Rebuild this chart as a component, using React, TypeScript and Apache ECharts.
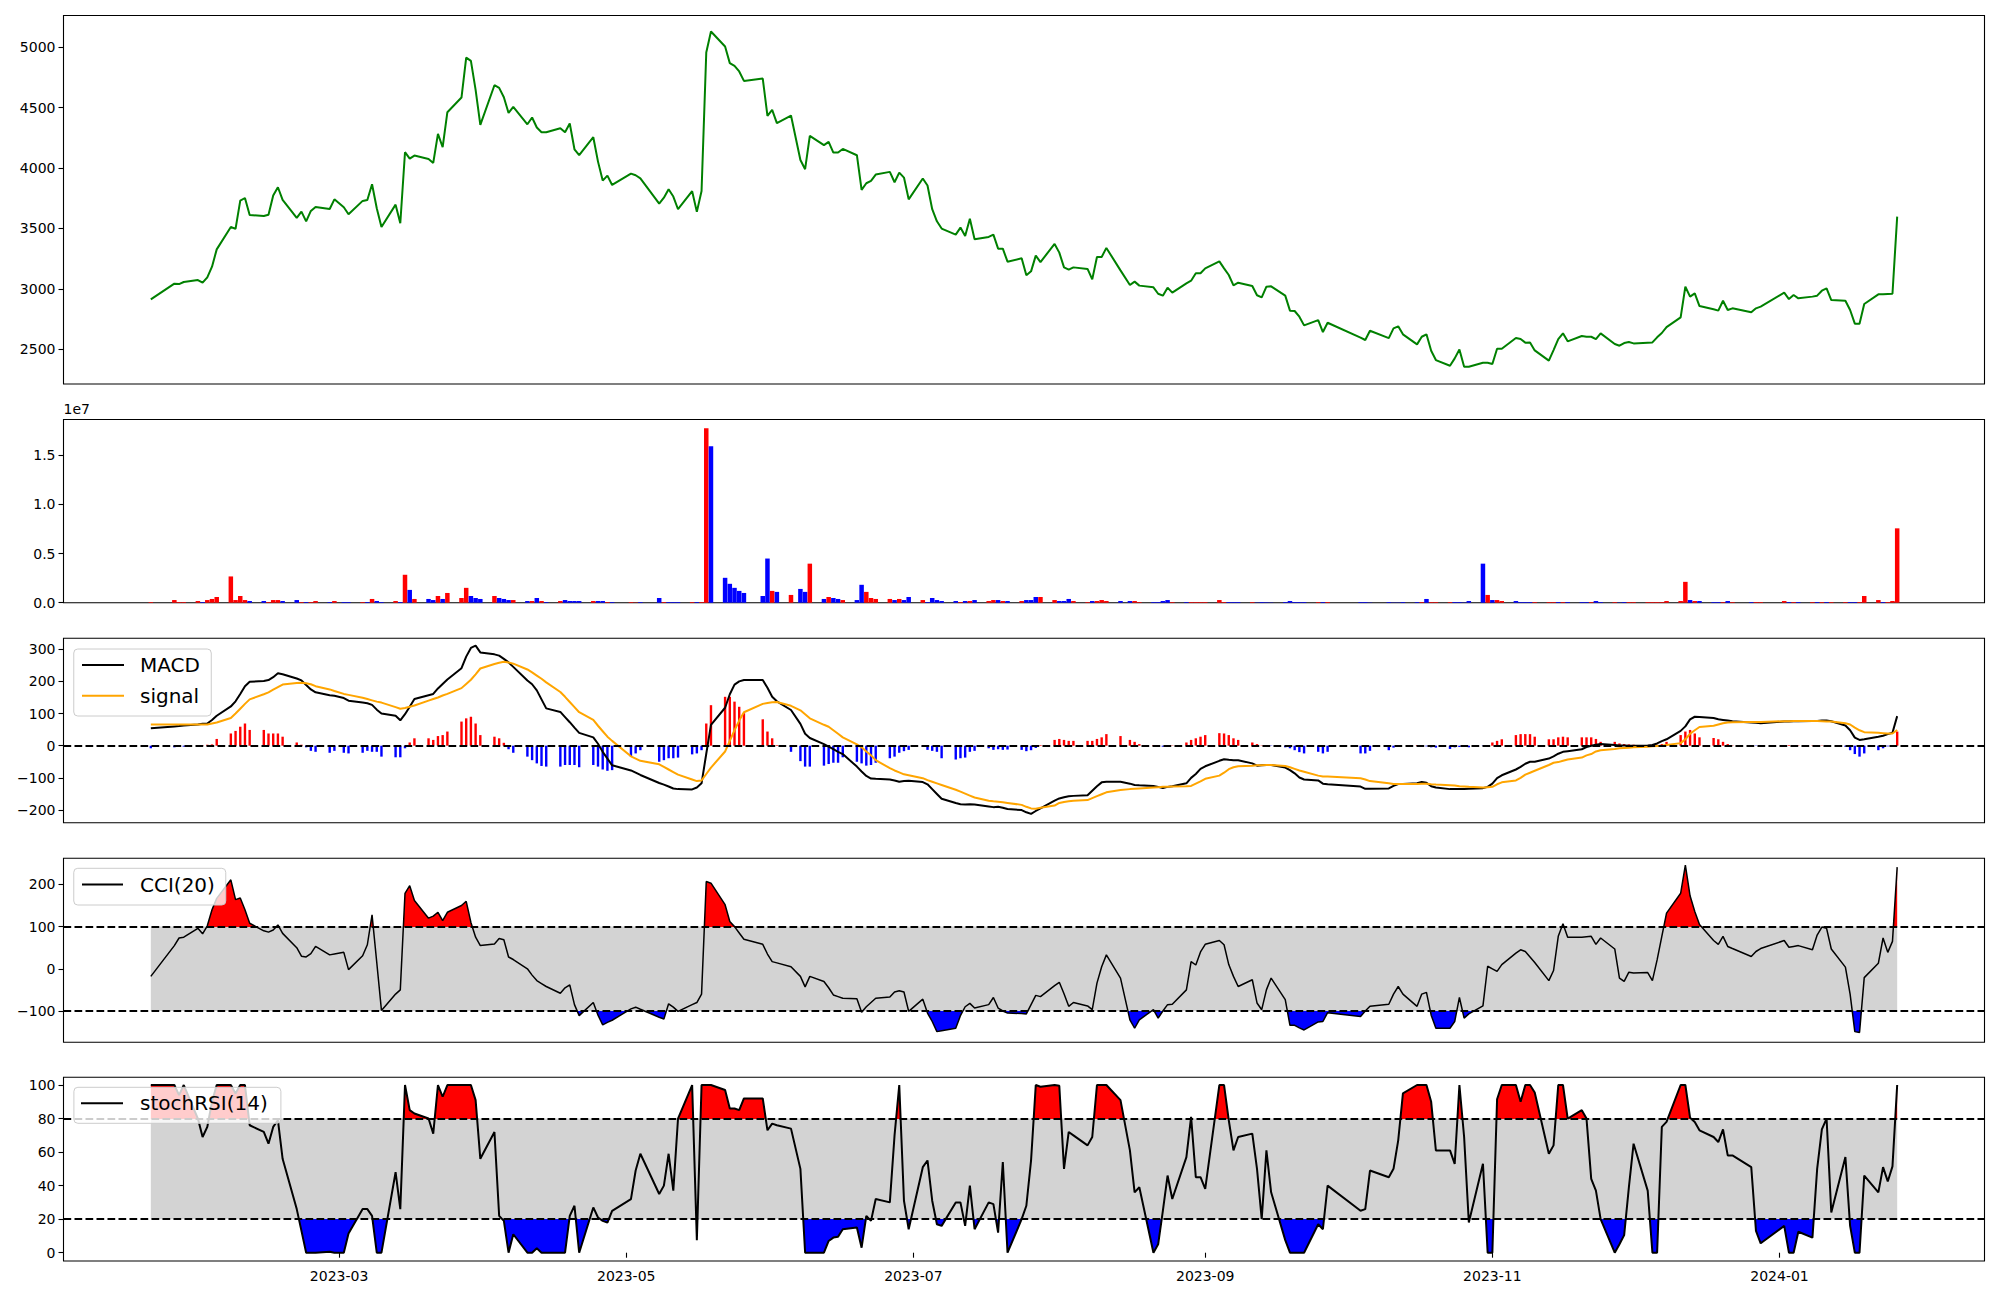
import React, { useEffect, useRef } from "react";
import * as echarts from "echarts";

// ---------- calendar ----------
const FIRST_DAY = "2023-01-20";
const LAST_DAY = "2024-01-26";
const HOLIDAYS = [
  "2023-01-23", "2023-01-24", "2023-03-01", "2023-05-01", "2023-05-05", "2023-05-29",
  "2023-06-06", "2023-08-15", "2023-09-28", "2023-09-29", "2023-10-02", "2023-10-03",
  "2023-10-09", "2023-12-25", "2023-12-29", "2024-01-01",
];

// ---------- series values (one per trading day) ----------
const closePrice = [
  2913, 3043, 3040, 3057, 3073, 3051, 3096, 3184, 3327, 3512,
  3496, 3730, 3752, 3612, 3603, 3614, 3772, 3841, 3736, 3587,
  3639, 3559, 3645, 3678, 3661, 3741, 3675, 3617, 3728, 3736,
  3866, 3667, 3512, 3697, 3543, 4131, 4078, 4103, 4075, 4042,
  4282, 4172, 4462, 4583, 4914, 4887, 4647, 4357, 4685, 4663,
  4586, 4456, 4506, 4362, 4418, 4335, 4296, 4296, 4329, 4296,
  4368, 4155, 4106, 4255, 4053, 3896, 3937, 3860, 3954, 3940,
  3915, 3706, 3755, 3824, 3764, 3659, 3808, 3637, 3810, 4956,
  5130, 5006, 4868, 4845, 4799, 4721, 4740, 4431, 4481, 4371,
  4434, 4067, 3990, 4266, 4189, 4216, 4128, 4128, 4158, 4106,
  3819, 3874, 3893, 3946, 3968, 3882, 3962, 3921, 3741, 3913,
  3855, 3659, 3559, 3499, 3449, 3507, 3438, 3581, 3410, 3430,
  3449, 3333, 3333, 3225, 3253, 3112, 3145, 3275, 3222, 3372,
  3300, 3178, 3159, 3178, 3165, 3079, 3264, 3264, 3339, 3153,
  3032, 3060, 3027, 3013, 2960, 2944, 3010, 2969, 3046, 3068,
  3129, 3129, 3170, 3228, 3170, 3115, 3029, 3051, 3024, 2947,
  2930, 3018, 3021, 2944, 2820, 2817, 2770, 2698, 2742, 2643,
  2720, 2597, 2577, 2654, 2593, 2673, 2690, 2624, 2541, 2604,
  2624, 2488, 2411, 2364, 2425, 2499, 2356, 2356, 2389, 2389,
  2378, 2505, 2505, 2593, 2585, 2555, 2557, 2491, 2406, 2494,
  2585, 2632, 2566, 2610, 2604, 2604, 2585, 2632, 2544, 2530,
  2552, 2560, 2549, 2555, 2557, 2599, 2635, 2684, 2764, 3018,
  2936, 2963, 2858, 2831, 2820, 2902, 2825, 2839, 2806, 2839,
  2853, 2969, 2916, 2949, 2922, 2936, 2944, 2985, 3004, 2908,
  2902, 2825, 2712, 2712, 2875, 2955, 2955, 2958, 2960, 3598,
];

const volume = [
  70000, 270000, 70000, 70000, 170000, 70000, 270000, 380000, 580000, 2670000,
  270000, 680000, 270000, 170000, 170000, 70000, 270000, 270000, 170000, 270000,
  70000, 70000, 70000, 170000, 70000, 170000, 70000, 70000, 70000, 70000,
  380000, 170000, 70000, 170000, 70000, 2840000, 1300000, 380000, 380000, 270000,
  680000, 380000, 990000, 480000, 1510000, 680000, 480000, 380000, 680000, 480000,
  380000, 270000, 270000, 170000, 170000, 480000, 170000, 70000, 170000, 270000,
  170000, 170000, 170000, 170000, 170000, 170000, 70000, 70000, 70000, 30000,
  70000, 480000, 70000, 70000, 70000, 70000, 70000, 70000, 70000, 17740000,
  15900000, 2530000, 1920000, 1510000, 1200000, 990000, 680000, 4490000, 1200000, 1100000,
  790000, 1400000, 1100000, 3970000, 380000, 580000, 480000, 380000, 270000, 270000,
  1820000, 1100000, 480000, 380000, 380000, 270000, 380000, 270000, 580000, 270000,
  70000, 480000, 270000, 170000, 170000, 70000, 170000, 170000, 270000, 170000,
  270000, 270000, 170000, 170000, 170000, 270000, 270000, 580000, 580000, 270000,
  170000, 170000, 380000, 170000, 70000, 170000, 170000, 270000, 170000, 170000,
  170000, 170000, 70000, 70000, 70000, 170000, 270000, 70000, 70000, 70000,
  70000, 70000, 70000, 270000, 70000, 70000, 70000, 70000, 70000, 30000,
  70000, 50000, 30000, 70000, 170000, 70000, 70000, 70000, 70000, 70000,
  70000, 70000, 70000, 30000, 70000, 30000, 30000, 70000, 70000, 70000,
  380000, 70000, 70000, 70000, 70000, 70000, 30000, 170000, 3970000, 790000,
  270000, 270000, 170000, 170000, 70000, 70000, 70000, 70000, 70000, 70000,
  70000, 70000, 70000, 70000, 70000, 70000, 170000, 70000, 70000, 30000,
  70000, 70000, 70000, 70000, 70000, 70000, 70000, 170000, 170000, 2120000,
  270000, 170000, 170000, 70000, 70000, 70000, 170000, 70000, 70000, 70000,
  70000, 170000, 70000, 70000, 70000, 70000, 70000, 70000, 70000, 70000,
  70000, 70000, 70000, 70000, 680000, 270000, 70000, 70000, 170000, 7560000,
];

// 1 = up day (red bar), 0 = down day (blue bar)
const volumeUp = [
  1, 1, 1, 1, 1, 0, 1, 1, 1, 1,
  1, 1, 1, 0, 0, 1, 1, 1, 0, 0,
  1, 0, 1, 1, 0, 1, 0, 0, 1, 0,
  1, 0, 0, 1, 0, 1, 0, 1, 0, 0,
  1, 0, 1, 1, 1, 0, 0, 0, 1, 0,
  0, 0, 1, 0, 1, 0, 1, 0, 1, 0,
  0, 0, 0, 1, 0, 0, 1, 0, 1, 1,
  0, 0, 1, 0, 0, 0, 1, 0, 1, 1,
  0, 0, 0, 0, 0, 0, 0, 0, 1, 0,
  1, 0, 0, 1, 0, 1, 0, 0, 1, 0,
  0, 1, 1, 1, 1, 0, 1, 0, 0, 1,
  0, 0, 0, 0, 0, 1, 0, 1, 0, 1,
  1, 0, 1, 0, 1, 0, 0, 0, 1, 1,
  0, 0, 0, 1, 1, 0, 1, 1, 1, 0,
  0, 1, 1, 0, 0, 0, 0, 1, 0, 1,
  1, 1, 1, 1, 1, 0, 0, 0, 1, 0,
  0, 0, 0, 0, 0, 0, 0, 0, 1, 0,
  1, 0, 0, 0, 0, 0, 0, 0, 0, 1,
  0, 1, 1, 1, 0, 0, 0, 0, 0, 1,
  0, 1, 1, 0, 0, 0, 0, 1, 1, 1,
  0, 1, 0, 0, 0, 1, 0, 0, 1, 0,
  0, 1, 1, 1, 1, 1, 1, 1, 1, 1,
  0, 1, 0, 0, 0, 1, 0, 1, 0, 1,
  1, 1, 0, 1, 0, 1, 0, 1, 0, 1,
  1, 0, 0, 1, 1, 1, 0, 1, 1, 1,
];

const macdLine = [
  54, 60, 61, 63, 66, 68, 69, 80, 93, 122,
  138, 161, 185, 199, 201, 204, 213, 225, 222, 209,
  203, 189, 175, 166, 157, 155, 148, 140, 134, 132,
  127, 112, 100, 93, 79, 98, 121, 145, 157, 161,
  178, 192, 206, 241, 277, 304, 311, 290, 284, 280,
  270, 259, 245, 203, 191, 172, 144, 116, 105, 89,
  73, 56, 40, 26, 6, -19, -40, -61, -77, -84,
  -91, -116, -121, -127, -133, -135, -136, -130, -117, -25,
  65, 118, 160, 190, 200, 204, 204, 180, 152, 138,
  111, 68, 37, 24, 5, -3, -11, -19, -26, -65,
  -80, -94, -102, -103, -105, -108, -112, -110, -109, -113,
  -120, -135, -150, -165, -178, -182, -183, -182, -183, -189,
  -191, -190, -193, -197, -200, -207, -212, -203, -195, -171,
  -164, -160, -157, -156, -154, -140, -126, -114, -112, -112,
  -118, -122, -123, -125, -128, -132, -128, -126, -117, -100,
  -88, -72, -64, -47, -42, -44, -45, -45, -55, -62,
  -61, -60, -60, -68, -76, -86, -99, -105, -108, -118,
  -120, -127, -134, -134, -133, -125, -119, -119, -117, -113,
  -115, -126, -130, -135, -135, -135, -135, -134, -132, -128,
  -118, -101, -92, -74, -66, -56, -50, -50, -40, -33,
  -25, -19, -17, -11, -4, 0, 3, 5, 2, 1,
  1, 0, 0, 1, 2, 7, 14, 20, 46, 60,
  82, 90, 89, 86, 82, 80, 78, 76, 72, 71,
  70, 75, 75, 76, 76, 77, 77, 78, 78, 76,
  63, 48, 25, 18, 20, 28, 31, 36, 40, 92,
];

const signalLine = [
  66, 66, 66, 66, 66, 66, 66, 69, 72, 86,
  100, 115, 130, 144, 160, 166, 174, 182, 190, 195,
  196, 194, 191, 185, 175, 170, 161, 158, 149, 145,
  141, 137, 134, 120, 115, 117, 121, 125, 140, 145,
  150, 156, 161, 179, 192, 205, 222, 240, 254, 258,
  261, 259, 255, 237, 228, 218, 208, 197, 167, 152,
  136, 120, 104, 80, 62, 45, 28, 15, -33, -40,
  -47, -58, -66, -74, -82, -90, -105, -110, -108, -88,
  -68, -18, 15, 48, 78, 104, 130, 133, 135, 136,
  124, 110, 98, 85, 65, 59, 48, 37, 26, 4,
  -5, -18, -30, -45, -70, -77, -83, -89, -92, -101,
  -107, -112, -117, -122, -137, -143, -149, -155, -161, -171,
  -173, -174, -176, -178, -184, -190, -195, -196, -193, -186,
  -178, -175, -173, -171, -169, -163, -157, -151, -145, -138,
  -135, -134, -133, -130, -129, -128, -128, -127, -126, -125,
  -118, -111, -103, -93, -84, -73, -67, -64, -62, -61,
  -61, -60, -60, -63, -67, -72, -77, -81, -93, -96,
  -96, -101, -105, -110, -117, -119, -119, -119, -119, -118,
  -118, -120, -121, -123, -124, -126, -127, -128, -130, -129,
  -128, -120, -114, -108, -100, -90, -84, -78, -60, -53,
  -51, -47, -43, -37, -30, -26, -18, -14, -10, -8,
  -7, -6, -5, -3, -2, -1, 0, 2, 8, 20,
  37, 48, 58, 62, 66, 70, 72, 73, 74, 74,
  74, 76, 76, 77, 77, 77, 77, 76, 75, 75,
  70, 66, 56, 48, 42, 40, 39, 38, 38, 49,
];

const macdHist = [
  -8, -5, -4, -3, -1, 1, 3, 4, 21, 38,
  46, 59, 69, 49, 49, 38, 38, 38, 28, 10,
  3, -5, -16, -19, -22, -16, -22, -24, -22, -16,
  -19, -19, -34, -36, -36, -8, 10, 23, 23, 18,
  30, 33, 44, 75, 85, 90, 69, 33, 28, 23,
  9, -11, -22, -34, -45, -55, -63, -65, -65, -60,
  -60, -60, -67, -60, -65, -74, -78, -76, -34, -24,
  -14, -50, -45, -39, -39, -37, -27, -24, -14, 69,
  126, 152, 152, 137, 121, 101, 82, 44, 23, 2,
  -19, -48, -65, -65, -62, -57, -53, -53, -36, -50,
  -55, -62, -60, -53, -39, -34, -22, -17, -13, -3,
  -13, -16, -19, -39, -43, -39, -37, -19, -16, -8,
  -13, -11, -13, -12, -13, -17, -14, -7, 2, 18,
  21, 18, 15, 15, 15, 15, 21, 26, 36, 30,
  18, 12, 5, 2, 1, -3, -1, 1, 10, 18,
  23, 28, 33, 39, 38, 33, 23, 18, 10, 5,
  1, 0, -1, -5, -8, -14, -20, -24, -19, -24,
  -19, -24, -24, -16, -14, -6, -1, 0, 2, -3,
  -2, -5, -6, -10, -5, -4, -3, -5, -1, 2,
  10, 15, 20, 33, 36, 36, 36, 28, 20, 20,
  26, 28, 26, 26, 26, 26, 21, 12, 12, 7,
  5, 4, 3, 2, 2, 3, 5, 12, 33, 44,
  49, 38, 26, 24, 20, 12, 5, 1, -1, -1,
  -1, 2, 2, 2, 1, 1, 1, 1, 0, 0,
  -3, -14, -26, -34, -24, -14, -8, -2, 2, 44,
];

const cci20 = [
  -18, 55, 73, 75, 96, 83, 102, 140, 167, 211,
  164, 168, 140, 108, 90, 87, 92, 104, 84, 50,
  30, 28, 36, 53, 33, 35, 39, -2, 31, 57,
  128, 15, -99, -60, -50, 179, 197, 162, 120, 125,
  134, 114, 134, 150, 160, 110, 75, 55, 59, 72,
  69, 28, 22, 0, -15, -28, -35, -42, -58, -45,
  -38, -85, -111, -80, -110, -133, -127, -122, -95, -91,
  -96, -115, -119, -83, -91, -101, -85, -80, -60, 207,
  203, 152, 112, 100, 85, 70, 58, 35, 17, 14,
  5, -18, -43, -18, -30, -45, -62, -66, -70, -71,
  -103, -90, -80, -70, -67, -55, -52, -55, -101, -72,
  -105, -125, -149, -147, -141, -111, -90, -82, -93, -85,
  -68, -93, -100, -105, -106, -107, -85, -63, -66, -40,
  -32, -59, -89, -80, -88, -97, -34, 5, 33, -22,
  -121, -141, -121, -97, -117, -100, -85, -84, -50, 17,
  9, 40, 58, 67, 57, 10, -18, -42, -26, -81,
  -97, -50, -22, -73, -134, -134, -140, -145, -126, -125,
  -104, -113, -100, -89, -84, -60, -42, -60, -89, -60,
  -56, -110, -141, -141, -125, -68, -117, -107, -88, 6,
  0, -6, 10, 37, 45, 41, 28, 15, -28, -4,
  77, 107, 75, 75, 76, 77, 58, 73, 47, -22,
  -30, -8, -10, -9, -28, 21, 77, 132, 179, 246,
  173, 136, 105, 67, 58, 77, 53, 48, 29, 41,
  48, 67, 51, 53, 55, 45, 80, 99, 96, 47,
  4, -60, -149, -151, -21, 13, 73, 39, 65, 241,
];

const stochRsi14 = [
  100, 100, 94, 100, 80, 69, 75, 90, 100, 100,
  95, 100, 100, 76, 72, 65, 75, 79, 56, 26,
  13, 0, 0, 0, 0.6, 0, 0, 11.5, 26, 26,
  22, 0, 0, 48, 26, 100, 85, 83, 80, 71,
  100, 93, 100, 100, 100, 100, 91, 56, 72, 22,
  19, 0, 11, 0, 0, 2.6, 0, 0, 0, 0,
  22, 28, 0, 27, 21, 19, 18, 25, 32, 49,
  59, 35, 40, 59, 37, 80, 100, 7.5, 100, 100,
  100, 97, 86, 86, 85, 92, 92, 73, 77, 76,
  74, 50, 0, 0, 0, 7, 9, 9.5, 14, 15,
  3, 22, 19, 32, 30, 70, 100, 31, 14, 51,
  55, 31, 17, 16, 30, 30, 16, 40, 14, 30,
  29, 12, 54, 0, 20, 28, 55, 100, 99, 100,
  99.5, 50, 72, 70, 64, 69, 100, 100, 100, 91,
  61, 36, 39, 0, 5, 25, 46, 32, 57, 81,
  45, 45, 38, 100, 100, 79, 61, 69, 71, 50,
  20, 61, 36, 7.5, 0, 0, 0, 0, 17, 14,
  40, 25, 26, 49, 45, 50, 67, 95, 100, 100,
  100, 90, 61, 61, 53, 100, 69, 18, 53, 0,
  0, 91.5, 100, 100, 90, 100, 100, 95.5, 59, 64,
  100, 100, 80, 85, 80, 44, 37, 20, 0, 5,
  10.5, 39, 65, 37, 0, 0, 75, 78, 100, 100,
  80.5, 78, 73, 69, 66, 73.5, 58, 58, 51, 13,
  5.6, 16, 0, 0, 12.5, 9, 50, 73.5, 80, 24,
  57, 16, 0, 0, 46, 36, 51, 42.5, 51.5, 100,
];

// ---------- axis ticks / levels ----------
const PRICE_TICKS = [2500, 3000, 3500, 4000, 4500, 5000];
const VOLUME_TICKS = [0, 5e6, 1e7, 1.5e7];
const MACD_TICKS = [-200, -100, 0, 100, 200, 300];
const CCI_TICKS = [-100, 0, 100, 200];
const STOCH_TICKS = [0, 20, 40, 60, 80, 100];
const X_TICK_MONTHS = ["2023-03", "2023-05", "2023-07", "2023-09", "2023-11", "2024-01"];
const CCI_LOW = -100;
const CCI_HIGH = 100;
const STOCH_LOW = 20;
const STOCH_HIGH = 80;

// ---------- helpers ----------
const FONT = "DejaVu Sans";

function localDate(s: string): Date {
  const [y, m, d] = s.split("-").map(Number);
  return new Date(y, m - 1, d || 1);
}
function dayKey(d: Date): string {
  return `${d.getFullYear()}-${String(d.getMonth() + 1).padStart(2, "0")}-${String(d.getDate()).padStart(2, "0")}`;
}
function tradingDays(): number[] {
  const hol = new Set(HOLIDAYS);
  const out: number[] = [];
  const d = localDate(FIRST_DAY);
  const end = localDate(LAST_DAY).getTime();
  while (d.getTime() <= end) {
    const wd = d.getDay();
    if (wd !== 0 && wd !== 6 && !hol.has(dayKey(d))) out.push(d.getTime());
    d.setDate(d.getDate() + 1);
  }
  return out;
}
const minus = (v: number) => (v < 0 ? "\u2212" + Math.abs(v) : String(v));

export default function App() {
  const ref = useRef<HTMLDivElement>(null);

  useEffect(() => {
    if (!ref.current) return;
    const chart = echarts.init(ref.current, undefined, { renderer: "svg" });
    const dates = tradingDays();
    const pair = (arr: number[]) => dates.map((t, i) => [t, arr[i]]);
    const first = dates[0];
    const last = dates[dates.length - 1];
    const span = last - first;
    const xMin = first - 0.05 * span;
    const xMax = last + 0.05 * span;
    const xTicks = X_TICK_MONTHS.map((s) => localDate(s).getTime());

    const gridTops = [
      [15.5, 368.5],
      [419.5, 183.2],
      [638.3, 184.4],
      [858.3, 184],
      [1077.3, 183.7],
    ];
    const grid = gridTops.map(([top, height]) => ({
      left: 63.5,
      width: 1921,
      top,
      height,
      show: true,
      borderColor: "#000",
      borderWidth: 1.1,
      backgroundColor: "rgba(0,0,0,0)",
    }));

    const labelStyle = { color: "#000", fontFamily: FONT, fontSize: 14 };
    const xAxis = gridTops.map((_, i) => ({
      type: "value",
      gridIndex: i,
      min: xMin,
      max: xMax,
      axisLine: { show: false },
      splitLine: { show: false },
      axisTick:
        i === 4
          ? { show: true, length: 5, inside: false, customValues: xTicks, lineStyle: { color: "#000", width: 1.1 } }
          : { show: false },
      axisLabel:
        i === 4
          ? {
              show: true,
              customValues: xTicks,
              margin: 8,
              ...labelStyle,
              formatter: (v: number) => {
                const d = new Date(v);
                return `${d.getFullYear()}-${String(d.getMonth() + 1).padStart(2, "0")}`;
              },
            }
          : { show: false },
    }));

    const yAxisDef = (i: number, min: number, max: number, ticks: number[], fmt: (v: number) => string, extra: any = {}) => ({
      type: "value",
      gridIndex: i,
      min,
      max,
      axisLine: { show: false },
      splitLine: { show: false },
      axisTick: { show: true, length: 5, inside: false, customValues: ticks, lineStyle: { color: "#000", width: 1.1 } },
      axisLabel: { show: true, customValues: ticks, formatter: fmt, margin: 8, ...labelStyle },
      ...extra,
    });

    const yAxis = [
      yAxisDef(0, 2213, 5262, PRICE_TICKS, (v) => String(v)),
      yAxisDef(1, 0, 1.8626e7, VOLUME_TICKS, (v) => (v / 1e7).toFixed(1), {
        name: "1e7",
        nameLocation: "end",
        nameGap: 4,
        nameTextStyle: { ...labelStyle, align: "left", verticalAlign: "bottom", padding: [0, 0, 0, 0] },
      }),
      yAxisDef(2, -239.4, 333.9, MACD_TICKS, minus),
      yAxisDef(3, -174.3, 262, CCI_TICKS, minus),
      yAxisDef(4, -4.95, 104.6, STOCH_TICKS, minus),
    ];

    const dashed = (levels: number[]) => ({
      silent: true,
      symbol: ["none", "none"],
      label: { show: false },
      emphasis: { disabled: true },
      lineStyle: { color: "#000", width: 2, type: [7.7, 3.3] },
      data: levels.map((v) => ({ yAxis: v })),
    });

    // light-grey band between the two threshold levels, over the data's date range
    const band = (ax: number, lo: number, hi: number) => ({
      type: "line",
      xAxisIndex: ax,
      yAxisIndex: ax,
      data: [first, last].map((t) => [t, lo]),
      showSymbol: false,
      silent: true,
      lineStyle: { width: 0, opacity: 0 },
      markArea: {
        silent: true,
        emphasis: { disabled: true },
        label: { show: false },
        itemStyle: { color: "#d3d3d3", opacity: 1, borderWidth: 0 },
        data: [[{ coord: [first, lo] }, { coord: [last, hi] }]],
      },
      z: 1,
    });

    const fill = (ax: number, values: number[], origin: string) => ({
      type: "line",
      xAxisIndex: ax,
      yAxisIndex: ax,
      data: pair(values),
      showSymbol: false,
      silent: true,
      lineStyle: { width: 0, opacity: 0 },
      areaStyle: { origin, opacity: 1 },
      z: 2,
    });

    const series: any[] = [
      {
        type: "line",
        xAxisIndex: 0,
        yAxisIndex: 0,
        data: pair(closePrice),
        showSymbol: false,
        silent: true,
        lineStyle: { color: "#008000", width: 2 },
        z: 3,
      },
      {
        type: "bar",
        xAxisIndex: 1,
        yAxisIndex: 1,
        data: pair(volume),
        barWidth: 4.5,
        silent: true,
        itemStyle: { color: (p: any) => (volumeUp[p.dataIndex] ? "#ff0000" : "#0000ff") },
      },
      {
        type: "bar",
        xAxisIndex: 2,
        yAxisIndex: 2,
        data: pair(macdHist),
        barWidth: 2.4,
        silent: true,
        itemStyle: { color: (p: any) => (p.value[1] >= 0 ? "#ff0000" : "#0000ff") },
        z: 2,
      },
      {
        name: "MACD",
        type: "line",
        xAxisIndex: 2,
        yAxisIndex: 2,
        data: pair(macdLine),
        showSymbol: false,
        silent: true,
        lineStyle: { color: "#000", width: 2 },
        markLine: dashed([0]),
        z: 3,
      },
      {
        name: "signal",
        type: "line",
        xAxisIndex: 2,
        yAxisIndex: 2,
        data: pair(signalLine),
        showSymbol: false,
        silent: true,
        lineStyle: { color: "#ffa500", width: 2 },
        z: 3,
      },
    ];

    series.push(band(3, CCI_LOW, CCI_HIGH));
    const cciRedIdx = series.push(fill(3, cci20, "start")) - 1;
    const cciBlueIdx = series.push(fill(3, cci20, "end")) - 1;
    series.push({
      name: "CCI(20)",
      type: "line",
      xAxisIndex: 3,
      yAxisIndex: 3,
      data: pair(cci20),
      showSymbol: false,
      silent: true,
      lineStyle: { color: "#000", width: 1.5 },
      markLine: dashed([CCI_LOW, CCI_HIGH]),
      z: 3,
    });
    series.push(band(4, STOCH_LOW, STOCH_HIGH));
    const stRedIdx = series.push(fill(4, stochRsi14, "start")) - 1;
    const stBlueIdx = series.push(fill(4, stochRsi14, "end")) - 1;
    series.push({
      name: "stochRSI(14)",
      type: "line",
      xAxisIndex: 4,
      yAxisIndex: 4,
      data: pair(stochRsi14),
      showSymbol: false,
      silent: true,
      lineStyle: { color: "#000", width: 2 },
      markLine: dashed([STOCH_LOW, STOCH_HIGH]),
      z: 3,
    });

    const T = "rgba(0,0,0,0)";
    const visualMap = [
      { type: "piecewise", show: false, seriesIndex: cciRedIdx, dimension: 1, pieces: [{ gt: -1e4, lte: CCI_HIGH, color: T }, { gt: CCI_HIGH, lte: 1e4, color: "#ff0000" }] },
      { type: "piecewise", show: false, seriesIndex: cciBlueIdx, dimension: 1, pieces: [{ gte: -1e4, lt: CCI_LOW, color: "#0000ff" }, { gte: CCI_LOW, lte: 1e4, color: T }] },
      { type: "piecewise", show: false, seriesIndex: stRedIdx, dimension: 1, pieces: [{ gt: -1e4, lte: STOCH_HIGH, color: T }, { gt: STOCH_HIGH, lte: 1e4, color: "#ff0000" }] },
      { type: "piecewise", show: false, seriesIndex: stBlueIdx, dimension: 1, pieces: [{ gte: -1e4, lt: STOCH_LOW, color: "#0000ff" }, { gte: STOCH_LOW, lte: 1e4, color: T }] },
    ];

    const legendBox = (x: number, y: number, w: number, h: number) => ({
      type: "rect",
      shape: { x, y, width: w, height: h, r: 4 },
      style: { fill: "rgba(255,255,255,0.8)", stroke: "#cccccc", lineWidth: 1 },
      z: 100,
      silent: true,
    });
    const legendLine = (x1: number, x2: number, y: number, color: string) => ({
      type: "line",
      shape: { x1, y1: y, x2, y2: y },
      style: { stroke: color, lineWidth: 2 },
      z: 101,
      silent: true,
    });
    const legendText = (x: number, y: number, text: string) => ({
      type: "text",
      x,
      y,
      style: { text, fill: "#000", font: `20px '${FONT}'`, verticalAlign: "middle" },
      z: 101,
      silent: true,
    });

    const graphic = [
      legendBox(73.75, 649, 137.5, 67),
      legendLine(82, 124, 665, "#000"),
      legendText(140, 665, "MACD"),
      legendLine(82, 124, 695.7, "#ffa500"),
      legendText(140, 695.7, "signal"),
      legendBox(73.75, 868.3, 152, 36.7),
      legendLine(82, 123, 884.5, "#000"),
      legendText(140, 884.5, "CCI(20)"),
      legendBox(73.9, 1087.3, 207, 36),
      legendLine(81, 123, 1103.3, "#000"),
      legendText(140, 1103.3, "stochRSI(14)"),
    ];

    chart.setOption({
      animation: false,
      backgroundColor: "#fff",
      textStyle: { fontFamily: FONT },
      grid,
      xAxis,
      yAxis,
      visualMap,
      series,
      graphic,
    });

    return () => chart.dispose();
  }, []);

  return (
    <div
      ref={ref}
      style={{ position: "absolute", left: 0, top: 0, width: 2000, height: 1300, background: "#fff" }}
    />
  );
}
